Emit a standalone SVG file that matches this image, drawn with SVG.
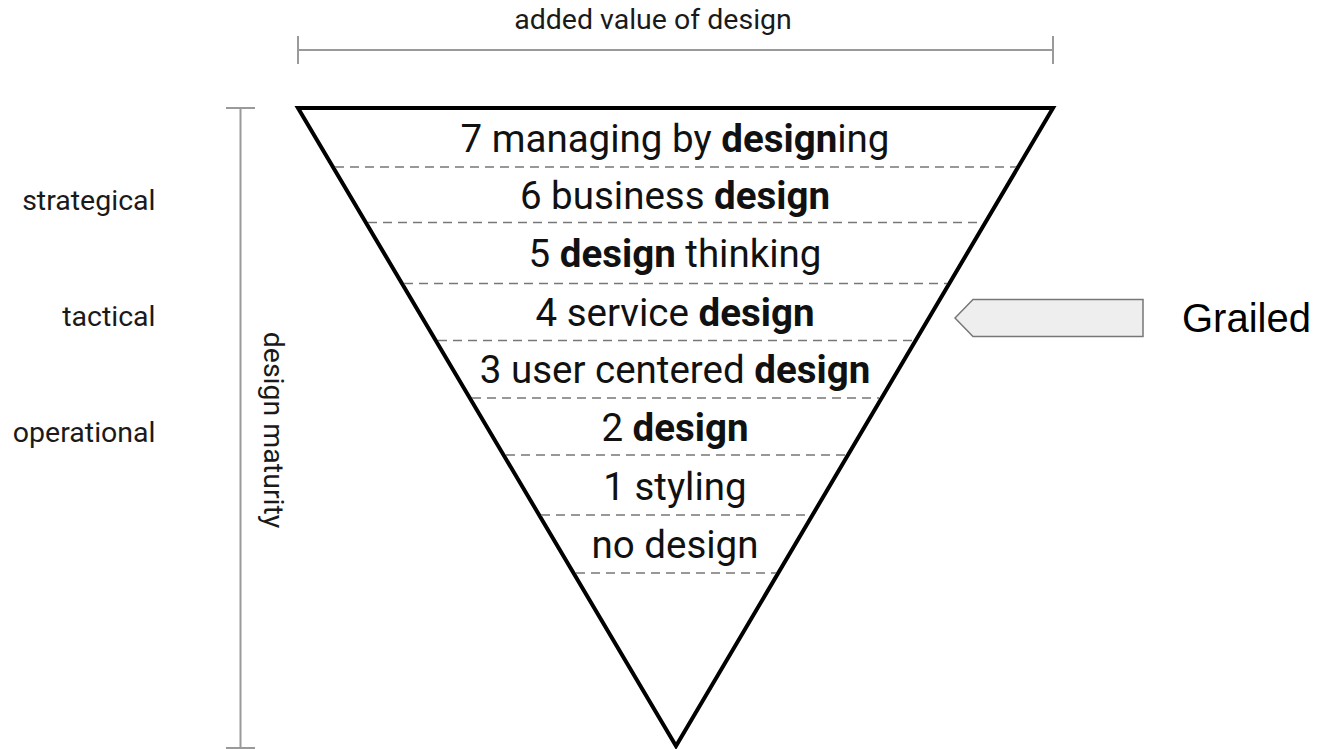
<svg xmlns="http://www.w3.org/2000/svg" width="1322" height="749" viewBox="0 0 1322 749">
  <style>
    .axis { stroke: #9a9a9a; stroke-width: 2; fill: none; }
    .axis-label { font-family: Roboto, "Liberation Sans", sans-serif; font-size: 28.5px; fill: #1a1a1a; }
    .level { font-family: Roboto, "Liberation Sans", sans-serif; font-size: 38.5px; font-weight: 400; fill: #111; text-anchor: middle; }
    .level .b { font-weight: 700; }
    .divider { stroke: #777; stroke-width: 1.6; stroke-dasharray: 9 6; fill: none; }
    .funnel { fill: #fff; stroke: #000; stroke-width: 4; stroke-linejoin: miter; }
    .pointer { fill: #eeeeee; stroke: #777; stroke-width: 1.5; }
    .pointer-label { font-family: "Liberation Sans", Arial, sans-serif; font-size: 40px; fill: #000; }
  </style>

  <!-- horizontal axis: added value -->
  <g id="axis-value">
    <line class="axis" x1="298" y1="50" x2="1053" y2="50"/>
    <line class="axis" x1="298" y1="36" x2="298" y2="64"/>
    <line class="axis" x1="1053" y1="36" x2="1053" y2="64"/>
    <text class="axis-label" x="653" y="29" text-anchor="middle">added value of design</text>
  </g>

  <!-- vertical axis: maturity -->
  <g id="axis-maturity">
    <line class="axis" x1="240.5" y1="108" x2="240.5" y2="748"/>
    <line class="axis" x1="226" y1="108" x2="255" y2="108"/>
    <line class="axis" x1="226" y1="748" x2="255" y2="748"/>
    <text class="axis-label" transform="translate(264 430) rotate(90)" text-anchor="middle">design maturity</text>
  </g>

  <!-- organisational levels -->
  <g id="levels">
    <text class="axis-label" x="155.5" y="210" text-anchor="end">strategical</text>
    <text class="axis-label" x="155.5" y="326" text-anchor="end">tactical</text>
    <text class="axis-label" x="155.5" y="442" text-anchor="end">operational</text>
  </g>

  <!-- inverted funnel -->
  <g id="funnel">
    <polygon class="funnel" points="298,108 1053,108 676,746"/>
  </g>

  <g id="dividers">
    <line class="divider" x1="335" y1="167" x2="1016" y2="167"/>
    <line class="divider" x1="368" y1="222.5" x2="983" y2="222.5"/>
    <line class="divider" x1="404" y1="283.5" x2="947" y2="283.5"/>
    <line class="divider" x1="438" y1="340.5" x2="913" y2="340.5"/>
    <line class="divider" x1="472" y1="398" x2="879" y2="398"/>
    <line class="divider" x1="506" y1="455" x2="846" y2="455"/>
    <line class="divider" x1="541" y1="515" x2="810" y2="515"/>
    <line class="divider" x1="576" y1="573" x2="776" y2="573"/>
  </g>

  <g id="level-7"><text class="level" x="675" y="151.7">7 managing by <tspan class="b">design</tspan>ing</text></g>
  <g id="level-6"><text class="level" x="675" y="209.3">6 business <tspan class="b">design</tspan></text></g>
  <g id="level-5"><text class="level" x="675" y="267">5 <tspan class="b">design</tspan> thinking</text></g>
  <g id="level-4"><text class="level" x="675" y="326">4 service <tspan class="b">design</tspan></text></g>
  <g id="level-3"><text class="level" x="675" y="383">3 user centered <tspan class="b">design</tspan></text></g>
  <g id="level-2"><text class="level" x="675" y="441">2 <tspan class="b">design</tspan></text></g>
  <g id="level-1"><text class="level" x="675" y="499.5">1 styling</text></g>
  <g id="level-0"><text class="level" x="675" y="557.5">no design</text></g>

  <!-- marker pointing at level 4 -->
  <g id="grailed">
    <polygon class="pointer" points="955,318 973,299.5 1143,299.5 1143,336.5 973,336.5"/>
    <text class="pointer-label" x="1182" y="332">Grailed</text>
  </g>
</svg>
